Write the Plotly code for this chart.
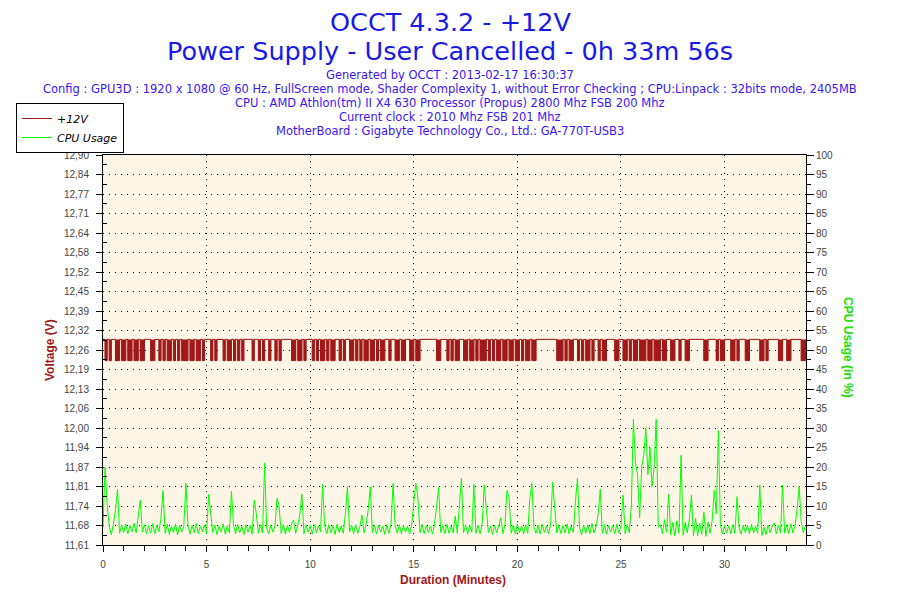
import plotly.graph_objects as go

# OCCT power supply log, one sample every 0.1 minute
sample_step_min = 0.1

cpu_usage = [
    4.6, 20.0, 10.5, 5.0, 2.6, 5.3, 9.0, 14.3, 3.0, 5.1,
    3.2, 5.4, 2.9, 5.0, 3.4, 5.6, 3.1, 8.0, 11.5, 3.3,
    5.2, 2.8, 4.9, 3.1, 5.5, 2.9, 5.0, 3.4, 7.0, 14.0,
    3.0, 5.3, 2.7, 4.8, 3.2, 5.4, 2.6, 5.1, 3.3, 4.9,
    15.8, 5.2, 2.8, 5.0, 3.1, 5.5, 2.9, 4.7, 3.4, 5.2,
    3.0, 13.0, 8.0, 3.2, 5.1, 2.7, 4.9, 3.3, 5.4, 2.8,
    5.0, 3.1, 13.8, 5.0, 2.9, 5.3, 3.2, 4.8, 2.7, 5.2,
    3.3, 5.0, 2.8, 11.5, 8.0, 3.0, 5.2, 3.1, 21.0, 4.3,
    2.9, 5.1, 3.3, 4.9, 12.0, 10.0, 3.0, 5.3, 2.8, 5.0,
    3.2, 5.4, 6.4, 3.0, 5.1, 8.0, 13.0, 2.9, 5.2, 3.3,
    5.0, 2.8, 5.3, 3.1, 4.9, 3.4, 15.6, 4.8, 2.9, 5.2,
    3.1, 5.0, 2.7, 5.4, 3.2, 4.9, 3.0, 8.0, 15.0, 3.3,
    5.1, 2.9, 5.2, 3.0, 4.8, 7.7, 3.1, 5.3, 9.0, 15.0,
    3.2, 5.0, 2.8, 5.1, 3.3, 4.9, 2.7, 5.2, 3.0, 5.4,
    15.8, 4.9, 3.0, 5.2, 2.9, 5.0, 3.3, 4.8, 2.8, 5.1,
    11.0, 15.8, 12.0, 3.1, 5.3, 2.9, 5.0, 3.2, 4.9, 2.8,
    5.2, 10.0, 14.8, 3.2, 5.0, 2.9, 5.3, 3.0, 4.8, 3.1,
    7.4, 3.0, 9.0, 17.1, 3.1, 5.2, 2.8, 5.0, 3.3, 15.6,
    3.0, 5.1, 2.9, 5.3, 15.4, 9.0, 3.2, 4.9, 2.7, 5.1,
    3.1, 5.0, 7.0, 2.9, 5.2, 14.0, 12.0, 3.0, 5.1, 2.8,
    5.3, 3.1, 4.9, 2.8, 5.2, 3.0, 12.0, 15.8, 4.6, 3.0,
    5.1, 2.8, 5.3, 3.2, 4.9, 2.9, 5.0, 16.1, 10.0, 3.1,
    5.2, 2.9, 5.0, 3.1, 5.4, 2.8, 4.9, 3.2, 11.0, 17.1,
    4.5, 2.6, 5.1, 3.0, 5.2, 2.9, 5.5, 3.1, 4.8, 8.0,
    14.3, 3.0, 5.2, 2.8, 5.0, 3.3, 4.9, 2.9, 5.3, 3.1,
    5.0, 12.8, 2.9, 5.2, 3.1, 10.0, 32.2, 21.0, 18.0, 7.0,
    20.0, 23.0, 29.9, 18.0, 25.0, 15.0, 20.0, 32.2, 4.6, 5.2,
    2.9, 6.5, 3.3, 13.0, 2.6, 5.8, 2.4, 6.2, 3.0, 23.0,
    2.5, 5.8, 3.1, 6.6, 12.8, 2.3, 6.8, 2.4, 5.6, 2.7,
    8.5, 2.2, 5.9, 3.0, 6.2, 14.0, 8.0, 29.3, 5.0, 2.8,
    5.0, 3.1, 4.9, 2.9, 5.2, 3.0, 12.4, 4.3, 2.8, 5.1,
    3.2, 5.0, 2.9, 5.3, 3.1, 4.8, 3.0, 15.4, 2.4, 4.6,
    2.7, 5.1, 3.2, 4.9, 5.6, 2.9, 5.0, 3.1, 15.4, 3.0,
    5.2, 2.9, 5.5, 3.1, 5.0, 9.0, 15.0, 6.0, 3.2, 4.8,
]

voltage_12v = [
    12.29, 12.22, 12.29, 12.22, 12.29, 12.29, 12.22, 12.22, 12.29, 12.22,
    12.22, 12.29, 12.22, 12.22, 12.29, 12.22, 12.22, 12.29, 12.22, 12.22,
    12.29, 12.29, 12.29, 12.22, 12.22, 12.29, 12.29, 12.22, 12.29, 12.22,
    12.29, 12.22, 12.22, 12.29, 12.22, 12.29, 12.22, 12.29, 12.22, 12.22,
    12.22, 12.29, 12.22, 12.22, 12.29, 12.22, 12.22, 12.29, 12.22, 12.29,
    12.29, 12.29, 12.22, 12.29, 12.22, 12.29, 12.29, 12.29, 12.22, 12.29,
    12.22, 12.22, 12.29, 12.22, 12.29, 12.22, 12.29, 12.22, 12.29, 12.29,
    12.29, 12.29, 12.22, 12.29, 12.29, 12.22, 12.29, 12.22, 12.29, 12.29,
    12.22, 12.29, 12.29, 12.22, 12.29, 12.22, 12.29, 12.29, 12.29, 12.29,
    12.29, 12.22, 12.22, 12.29, 12.22, 12.22, 12.29, 12.22, 12.29, 12.29,
    12.29, 12.22, 12.29, 12.22, 12.29, 12.22, 12.22, 12.29, 12.22, 12.29,
    12.22, 12.22, 12.29, 12.29, 12.22, 12.29, 12.22, 12.29, 12.29, 12.22,
    12.22, 12.29, 12.22, 12.29, 12.22, 12.29, 12.22, 12.22, 12.29, 12.22,
    12.22, 12.29, 12.22, 12.29, 12.22, 12.22, 12.29, 12.29, 12.22, 12.29,
    12.29, 12.22, 12.22, 12.29, 12.22, 12.22, 12.29, 12.29, 12.22, 12.22,
    12.29, 12.22, 12.22, 12.29, 12.29, 12.29, 12.29, 12.29, 12.29, 12.29,
    12.29, 12.22, 12.22, 12.29, 12.29, 12.29, 12.22, 12.29, 12.22, 12.29,
    12.22, 12.22, 12.29, 12.29, 12.22, 12.22, 12.29, 12.22, 12.22, 12.29,
    12.22, 12.29, 12.22, 12.22, 12.22, 12.29, 12.22, 12.29, 12.22, 12.29,
    12.22, 12.22, 12.29, 12.22, 12.22, 12.29, 12.22, 12.22, 12.29, 12.22,
    12.22, 12.29, 12.22, 12.29, 12.22, 12.22, 12.29, 12.22, 12.22, 12.29,
    12.29, 12.29, 12.29, 12.29, 12.29, 12.29, 12.29, 12.29, 12.29, 12.22,
    12.22, 12.22, 12.29, 12.22, 12.29, 12.22, 12.22, 12.29, 12.29, 12.22,
    12.29, 12.22, 12.29, 12.22, 12.22, 12.29, 12.22, 12.29, 12.29, 12.22,
    12.29, 12.22, 12.22, 12.29, 12.29, 12.29, 12.29, 12.22, 12.22, 12.29,
    12.29, 12.22, 12.22, 12.29, 12.22, 12.29, 12.22, 12.22, 12.29, 12.22,
    12.22, 12.22, 12.29, 12.22, 12.22, 12.29, 12.22, 12.22, 12.22, 12.29,
    12.22, 12.22, 12.29, 12.29, 12.22, 12.22, 12.29, 12.29, 12.22, 12.29,
    12.29, 12.22, 12.22, 12.29, 12.29, 12.29, 12.29, 12.29, 12.29, 12.29,
    12.22, 12.22, 12.29, 12.29, 12.29, 12.29, 12.22, 12.29, 12.22, 12.22,
    12.29, 12.29, 12.29, 12.22, 12.22, 12.29, 12.22, 12.29, 12.29, 12.29,
    12.22, 12.22, 12.29, 12.29, 12.29, 12.29, 12.29, 12.22, 12.22, 12.29,
    12.22, 12.29, 12.29, 12.29, 12.29, 12.29, 12.22, 12.22, 12.29, 12.29,
    12.22, 12.22, 12.29, 12.29, 12.29, 12.29, 12.29, 12.22, 12.22, 12.29,
]

minutes = [round(i * sample_step_min, 1) for i in range(len(cpu_usage))]
duration_min = 33.93  # 0h 33m 56s

volt_min, volt_max = 11.61, 12.90
volt_labels = ["11,61", "11,68", "11,74", "11,81", "11,87", "11,94", "12,00",
               "12,06", "12,13", "12,19", "12,26", "12,32", "12,39", "12,45",
               "12,52", "12,58", "12,64", "12,71", "12,77", "12,84", "12,90"]
volt_step = (volt_max - volt_min) / (len(volt_labels) - 1)
volt_ticks = [round(volt_min + k * volt_step, 5) for k in range(len(volt_labels))]
volt_minor = [round(v + volt_step / 2, 5) for v in volt_ticks[:-1]]

title_lines = ["OCCT 4.3.2 - +12V", "Power Supply - User Cancelled - 0h 33m 56s"]
info_lines = [
    "Generated by OCCT : 2013-02-17 16:30:37",
    "Config : GPU3D : 1920 x 1080 @ 60 Hz, FullScreen mode, Shader Complexity 1, without Error Checking ; CPU:Linpack : 32bits mode, 2405MB",
    "CPU : AMD Athlon(tm) II X4 630 Processor (Propus) 2800 Mhz FSB 200 Mhz",
    "Current clock : 2010 Mhz FSB 201 Mhz",
    "MotherBoard : Gigabyte Technology Co., Ltd.: GA-770T-USB3",
]

RED = "#a01818"
GREEN = "#00ff00"
TICKFONT = dict(family="Liberation Sans, Arial", size=10, color="#444444")
GRID = dict(showgrid=True, gridcolor="#000000", gridwidth=1, griddash="1px,5px")

fig = go.Figure()
# filled drops under the +12V line, then the line itself
fig.add_trace(go.Scatter(x=minutes, y=voltage_12v, mode="lines", fill="toself", fillcolor=RED,
                         line=dict(color=RED, width=0.5, shape="hv"), yaxis="y",
                         showlegend=False, hoverinfo="skip"))
fig.add_trace(go.Scatter(x=minutes, y=voltage_12v, name="+12V", mode="lines",
                         line=dict(color=RED, width=1, shape="hv"), yaxis="y"))
fig.add_trace(go.Scatter(x=minutes, y=cpu_usage, name="CPU Usage", mode="lines",
                         line=dict(color=GREEN, width=1), yaxis="y2"))

# title block
ann = []
for i, txt in enumerate(title_lines):
    ann.append(dict(text=txt, x=0.4936, y=[1.3410, 1.2667][i], xref="paper", yref="paper",
                    showarrow=False, xanchor="center", yanchor="middle", borderpad=0,
                    font=dict(family="DejaVu Sans", size=25.5, color="#1919e6")))
for i, txt in enumerate(info_lines):
    ann.append(dict(text=txt, x=0.4936, y=1.2051 - i * 0.0359, xref="paper", yref="paper",
                    showarrow=False, xanchor="center", yanchor="middle",
                    font=dict(family="DejaVu Sans", size=11.5, color="#3c14f5")))

axis_title_font = dict(family="Liberation Sans, Arial", size=12, weight="bold")
ann.append(dict(text="Duration (Minutes)", x=0.498, y=-0.0897, xref="paper", yref="paper",
                xanchor="center", yanchor="middle",
                showarrow=False, font=dict(axis_title_font, color=RED)))
ann.append(dict(text="Voltage (V)", x=-0.0754, y=0.5, xref="paper", yref="paper",
                xanchor="center", yanchor="middle",
                showarrow=False, textangle=-90, font=dict(axis_title_font, color=RED)))
ann.append(dict(text="CPU Usage (in %)", x=1.0597, y=0.505, xref="paper", yref="paper",
                xanchor="center", yanchor="middle",
                showarrow=False, textangle=90, font=dict(axis_title_font, color="#22dd00")))

# the page body has an 8px margin, so the margins are shifted to keep the plot box in place
fig.update_layout(
    width=900, height=600,
    margin=dict(l=95, r=102, t=147, b=63, autoexpand=False),
    paper_bgcolor="white",
    plot_bgcolor="#fdf5e6",
    showlegend=True,
    legend=dict(x=-0.1238, y=1.1333, xref="paper", yref="paper", xanchor="left", yanchor="top",
                bgcolor="white", bordercolor="black", borderwidth=1,
                font=dict(family="DejaVu Sans", size=11, color="black", style="italic"),
                itemwidth=30, tracegroupgap=0),
    annotations=ann,
    xaxis=dict(range=[0, duration_min], tick0=0, dtick=5, zeroline=False,
               showline=True, linecolor="black", linewidth=1, mirror=True,
               ticks="outside", ticklen=6, tickcolor="black", tickfont=TICKFONT,
               ticklabelstandoff=4,
               minor=dict(dtick=1, ticks="outside", ticklen=5, tickcolor="black", showgrid=False),
               **GRID),
    yaxis=dict(range=[volt_min, volt_max], tickmode="array", tickvals=volt_ticks, ticktext=volt_labels,
               showgrid=False, zeroline=False, showline=True, linecolor="black", linewidth=1,
               ticks="outside", ticklen=6, tickcolor="black", tickfont=TICKFONT,
               ticklabelstandoff=5,
               minor=dict(tickvals=volt_minor, ticks="inside", ticklen=4, tickcolor="black")),
    yaxis2=dict(range=[0, 100], tick0=0, dtick=5, overlaying="y", side="right", zeroline=False,
                showline=True, linecolor="black", linewidth=1,
                ticks="outside", ticklen=7, tickcolor="black", tickfont=TICKFONT,
                minor=dict(dtick=2.5, ticks="outside", ticklen=4, tickcolor="black", showgrid=False),
                **GRID),
)

fig.write_html("out.html")
